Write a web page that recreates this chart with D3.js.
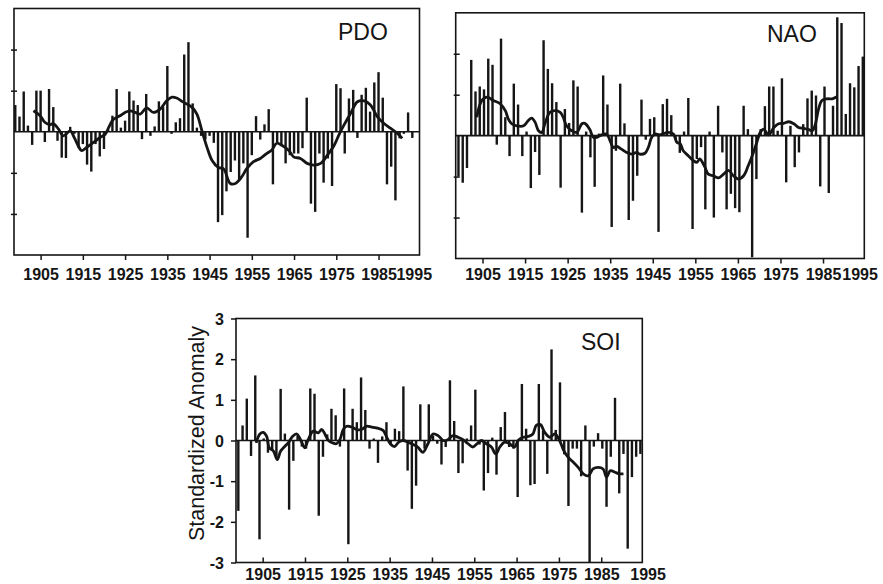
<!DOCTYPE html>
<html><head><meta charset="utf-8">
<script src="https://cdn.jsdelivr.net/npm/d3@7"></script>
<style>
html,body{margin:0;padding:0;background:#fff;}
svg{display:block;}
.tick text{font-family:"Liberation Sans Narrow","Arial Narrow","Liberation Sans",Arial,sans-serif;font-size:16px;font-weight:bold;fill:#151515;}
</style></head>
<body>
<svg id="chart" width="883" height="584"></svg>
<script>
// ---------- data ----------
const firstYear = 1899;
const pdoValues = [0.65,0.37,0.98,0.15,-0.32,1.0,1.0,-0.25,1.04,0.6,
 -0.22,-0.63,-0.64,0.12,-0.05,-0.4,-0.3,-0.8,-0.97,-0.3,
 -0.6,-0.42,0.05,0.39,1.04,0.1,0.27,0.98,0.76,0.65,
 -0.18,0.92,-0.1,0.13,0.74,0.6,1.6,-0.05,0.23,0.33,
 1.88,2.18,0.69,0.1,-0.1,-0.19,-0.1,-0.27,-2.2,-2.03,
 -1.45,-0.98,-0.7,-1.18,-0.77,-2.58,-0.57,0.38,-0.19,0.18,
 0.55,-1.28,-0.25,-0.33,-0.77,-0.57,-0.53,-0.53,-0.4,0.83,
 -1.75,-1.95,-0.53,-1.24,-0.65,-1.32,1.16,1.06,-0.53,0.81,
 1.02,-0.15,0.9,1.07,0.49,1.2,1.45,0.83,-1.28,-0.85,
 -1.67,-0.16,-0.05,0.47,-0.15];
const naoValues = [-1.0,-1.15,-0.79,1.85,1.08,1.2,1.13,1.88,1.73,-0.22,
 2.37,0.45,-0.5,1.27,0.76,-0.5,0.1,-1.28,-0.4,-0.96,
 2.33,1.63,1.28,0.82,-1.27,0.65,0.31,1.35,1.2,-1.88,
 0.1,-0.53,-1.25,0.05,1.47,0.76,-2.23,-0.37,1.27,0.3,
 -2.06,-1.59,-0.98,0.88,-0.1,0.41,0.45,-2.35,0.77,0.9,
 0.5,-0.1,-0.42,0.1,0.92,-2.28,-0.57,-0.28,-1.8,0.1,
 -2.0,0.73,-0.41,-1.8,-1.42,-1.77,-1.87,0.73,0.16,-2.97,
 -1.06,0.16,0.72,1.2,1.2,0.12,1.4,-1.14,0.24,-0.77,
 -0.41,0.28,0.91,1.1,0.98,-1.24,1.2,-1.4,0.73,2.89,
 2.75,0.53,1.28,1.18,1.7,1.93];
const soiValues = [-1.73,0.37,1.03,-0.38,1.6,-2.43,0.05,-0.3,-0.25,-0.4,
 1.27,0.17,-1.7,-0.5,0.12,-0.15,-0.2,1.28,1.15,-1.85,
 -0.4,0.15,0.78,0.62,-0.15,1.28,-2.55,0.78,0.45,1.55,
 0.75,-0.2,0.05,-0.55,0.1,0.45,-0.1,0.29,0.23,1.33,
 -0.74,-1.68,-1.11,0.89,-0.2,0.89,0.12,-0.08,-0.59,-0.16,
 1.48,0.48,-0.8,-0.56,0.05,0.37,1.25,-0.1,-1.23,-0.8,
 0.07,-0.84,0.33,0.7,-0.16,-0.2,-1.39,1.39,0.29,-1.1,
 -1.07,1.39,0.25,-0.82,2.24,0.26,1.43,-0.34,-1.61,-0.2,
 -0.2,-0.88,0.37,-3.0,-0.15,0.18,-0.2,-1.63,-0.4,1.05,
 -1.3,-0.33,-2.66,-0.9,-0.4,-0.33];

const pdoSmoothYears = [1903.3,1904.9,1906.0,1907.2,1908.0,1909.2,1910.4,1912.0,1913.0,1914.1,1914.7,1915.9,1917.5,1919.1,1920.3,1921.1,1922.2,1923.8,1925.0,1926.2,1927.4,1928.6,1930.1,1931.7,1933.3,1934.9,1936.1,1937.2,1938.8,1940.8,1942.0,1943.2,1944.4,1945.6,1947.1,1948.3,1949.9,1951.1,1952.6,1953.8,1955.4,1957.0,1958.5,1959.7,1960.9,1962.1,1963.7,1964.9,1966.5,1968.1,1969.7,1971.3,1972.9,1974.5,1975.6,1976.8,1978.4,1980.0,1981.6,1983.1,1984.7,1986.3,1987.9,1989.5,1990.6];
const pdoSmooth = [0.51,0.39,0.23,0.17,0.2,0.07,-0.1,0.02,-0.15,-0.38,-0.46,-0.38,-0.26,-0.14,-0.06,0.1,0.3,0.39,0.47,0.51,0.47,0.43,0.58,0.47,0.55,0.76,0.84,0.82,0.72,0.6,0.43,0.02,-0.38,-0.7,-0.87,-0.9,-1.26,-1.26,-1.1,-0.9,-0.73,-0.65,-0.53,-0.45,-0.28,-0.33,-0.45,-0.61,-0.65,-0.77,-0.81,-0.77,-0.57,-0.33,-0.08,0.16,0.45,0.73,0.75,0.65,0.37,0.2,0.08,-0.04,-0.16];

const naoSmoothYears = [1903.3,1904.5,1905.7,1907.2,1908.8,1910.0,1910.7,1911.5,1912.7,1914.3,1915.4,1916.2,1917.0,1917.8,1918.6,1919.3,1920.5,1921.7,1922.9,1923.6,1924.4,1925.6,1926.8,1928.0,1928.7,1929.8,1930.7,1931.5,1932.6,1933.8,1934.6,1935.4,1936.2,1937.3,1938.5,1939.7,1940.9,1941.6,1942.8,1943.6,1944.4,1945.2,1946.3,1948.3,1949.5,1950.3,1951.1,1951.8,1953.0,1954.2,1955.0,1955.7,1956.9,1957.7,1958.9,1960.1,1961.3,1962.4,1963.6,1964.8,1966.0,1967.1,1968.3,1969.1,1969.9,1970.7,1971.9,1973.1,1974.2,1975.4,1976.6,1977.8,1978.9,1980.1,1981.3,1982.1,1982.8,1983.6,1984.4,1985.6,1986.8,1987.9];
const naoSmooth = [0.45,0.86,0.94,0.86,0.78,0.61,0.41,0.29,0.24,0.24,0.37,0.43,0.33,0.12,0.08,0.29,0.57,0.61,0.57,0.45,0.24,0.12,0.08,0.29,0.3,0.16,-0.04,-0.04,0.02,0.04,-0.12,-0.29,-0.26,-0.33,-0.41,-0.45,-0.41,-0.45,-0.43,-0.29,-0.04,0.04,0.02,0.08,0.04,-0.16,-0.2,-0.37,-0.49,-0.61,-0.65,-0.57,-0.77,-0.94,-0.98,-1.03,-0.94,-0.85,-0.98,-1.06,-0.98,-0.73,-0.41,-0.16,0.08,0.16,0.02,0.2,0.29,0.3,0.34,0.29,0.2,0.18,0.15,0.12,0.26,0.65,0.86,0.9,0.9,0.95];

const soiSmoothYears = [1903.2,1904.1,1904.9,1905.7,1906.3,1907.3,1908.2,1909.0,1910.0,1910.8,1911.8,1912.8,1913.7,1914.7,1915.5,1916.7,1917.9,1918.7,1919.5,1920.3,1921.3,1922.2,1923.0,1923.8,1924.6,1925.8,1927.0,1928.1,1929.3,1930.5,1931.6,1933.2,1933.9,1934.9,1935.9,1936.9,1937.9,1939.1,1940.3,1941.4,1942.6,1943.8,1945.0,1946.2,1947.4,1948.5,1949.7,1950.9,1952.1,1953.3,1954.4,1955.4,1956.4,1957.6,1958.8,1959.8,1960.8,1961.9,1963.1,1964.3,1965.1,1966.3,1967.5,1968.6,1969.4,1970.4,1971.4,1972.6,1973.8,1974.9,1975.9,1976.9,1978.1,1979.3,1980.5,1981.7,1982.8,1984.0,1985.2,1986.0,1986.9,1988.0,1989.0,1990.0];
const soiSmooth = [-0.06,0.16,0.2,0.1,-0.18,-0.26,-0.47,-0.26,-0.14,-0.06,0.1,0.16,0.02,-0.18,0.02,0.23,0.19,0.27,0.15,0,-0.06,-0.08,0.02,0.27,0.35,0.33,0.27,0.27,0.35,0.33,0.31,0.25,0.12,-0.08,-0.15,-0.04,0,-0.04,-0.1,-0.16,-0.29,-0.08,0.16,0.12,0,0.02,0.12,0.08,0.02,-0.08,-0.16,-0.08,0,-0.08,-0.16,-0.33,-0.16,-0.04,-0.08,-0.16,0,0.08,0.1,0.16,0.37,0.39,0.2,0.08,0.16,0,-0.25,-0.41,-0.53,-0.66,-0.82,-0.87,-0.7,-0.66,-0.7,-0.9,-0.74,-0.78,-0.82,-0.82];

const xTickYears = [1905,1915,1925,1935,1945,1955,1965,1975,1985,1995];
const yTicksTop = [-2,-1,1,2];
const yTicksSoi = [-3,-2,-1,0,1,2,3];
const titles = ["PDO","NAO","SOI"];
const yAxisTitle = "Standardized Anomaly";

// ---------- layout ----------
const panels = [
  {title:titles[0], bars:pdoValues, sy:pdoSmoothYears, sv:pdoSmooth, shift:0,
   left:14, right:419.5, top:8.5, bottom:255, tx:338, ty:40, labDy:25, xTickOut:true, lastDx:-7, yLabels:false, yTickShift:3},
  {title:titles[1], bars:naoValues, sy:naoSmoothYears, sv:naoSmooth, shift:0.35,
   left:455.7, right:864.3, top:12.8, bottom:258.5, tx:767, ty:42, labDy:21.5, xTickOut:true, lastDx:-6, yLabels:false, yTickShift:4},
  {title:titles[2], bars:soiValues, sy:soiSmoothYears, sv:soiSmooth, shift:0.25,
   left:236, right:642.3, top:318.5, bottom:562.5, tx:581, ty:350, labDy:17, xTickOut:false, lastDx:4, yLabels:true, yTickShift:0}
];

const svg = d3.select("#chart");
const ink = "#151515";

panels.forEach(p => {
  const x = d3.scaleLinear().domain([1898.7, 1994.7]).range([p.left, p.right]);
  const y = d3.scaleLinear().domain([-3, 3]).range([p.bottom, p.top]);
  const xp = yr => x(yr + p.shift);
  const g = svg.append("g");

  // bars
  g.selectAll("rect.bar").data(p.bars).join("rect")
    .attr("class","bar")
    .attr("x", (d,i) => xp(firstYear + i) - 1.2)
    .attr("width", 2.4)
    .attr("y", d => y(Math.max(0,d)))
    .attr("height", d => Math.abs(y(d) - y(0)))
    .attr("fill", ink);

  // zero line
  g.append("line").attr("x1", p.left).attr("x2", p.right)
    .attr("y1", y(0)).attr("y2", y(0)).attr("stroke", ink).attr("stroke-width", 1.6);

  // smoothed line
  const pts = p.sy.map((yr,i) => [yr, p.sv[i]]);
  g.append("path").datum(pts)
    .attr("d", d3.line().x(d => xp(d[0])).y(d => y(d[1])).curve(d3.curveCatmullRom.alpha(0.5)))
    .attr("fill","none").attr("stroke", ink).attr("stroke-width", 2.8).attr("stroke-linejoin","round");

  // frame
  g.append("rect").attr("x", p.left).attr("y", p.top)
    .attr("width", p.right - p.left).attr("height", p.bottom - p.top)
    .attr("fill","none").attr("stroke", ink).attr("stroke-width", 1.6);

  // x axis
  const xa = d3.axisBottom(x).tickValues(xTickYears).tickFormat(d3.format("d"))
    .tickSize(p.xTickOut ? 5 : -5);
  const gx = g.append("g").attr("transform", `translate(0,${p.bottom})`).call(xa);
  gx.select(".domain").remove();
  gx.selectAll(".tick line").attr("stroke", ink).attr("stroke-width", 1.5);
  gx.selectAll(".tick").filter(d => d === 1995).select("line").remove();
  gx.selectAll(".tick").filter(d => d === 1995).select("text").attr("dx", p.lastDx);
  gx.selectAll(".tick text").attr("dy", null).attr("y", p.labDy).attr("fill", ink);

  // y axis
  if (p.yLabels) {
    const ya = d3.axisLeft(y).tickValues(yTicksSoi).tickFormat(d => String(d)).tickSize(5).tickPadding(7);
    const gy = g.append("g").attr("transform", `translate(${p.left},0)`).call(ya);
    gy.select(".domain").remove();
    gy.selectAll(".tick line").attr("stroke", ink).attr("stroke-width", 1.5);
    gy.selectAll(".tick text").attr("dy","0.36em").attr("fill", ink);
    g.append("text").attr("transform", `translate(204,433.5) rotate(-90)`)
      .attr("text-anchor","middle")
      .style("font-family","'Liberation Sans',Arial,sans-serif").style("font-size","21.5px").attr("fill", ink)
      .text(yAxisTitle);
  } else {
    const ya = d3.axisLeft(y).tickValues(yTicksTop).tickFormat("").tickSize(6);
    const gy = g.append("g").attr("transform", `translate(${p.left + p.yTickShift},0)`).call(ya);
    gy.select(".domain").remove();
    gy.selectAll(".tick line").attr("stroke", ink).attr("stroke-width", 1.5);
  }

  // title
  g.append("text").attr("x", p.tx).attr("y", p.ty)
    .style("font-family","'Liberation Sans',Arial,sans-serif").style("font-size","23px").attr("fill", ink)
    .text(p.title);
});
</script>
</body></html>
